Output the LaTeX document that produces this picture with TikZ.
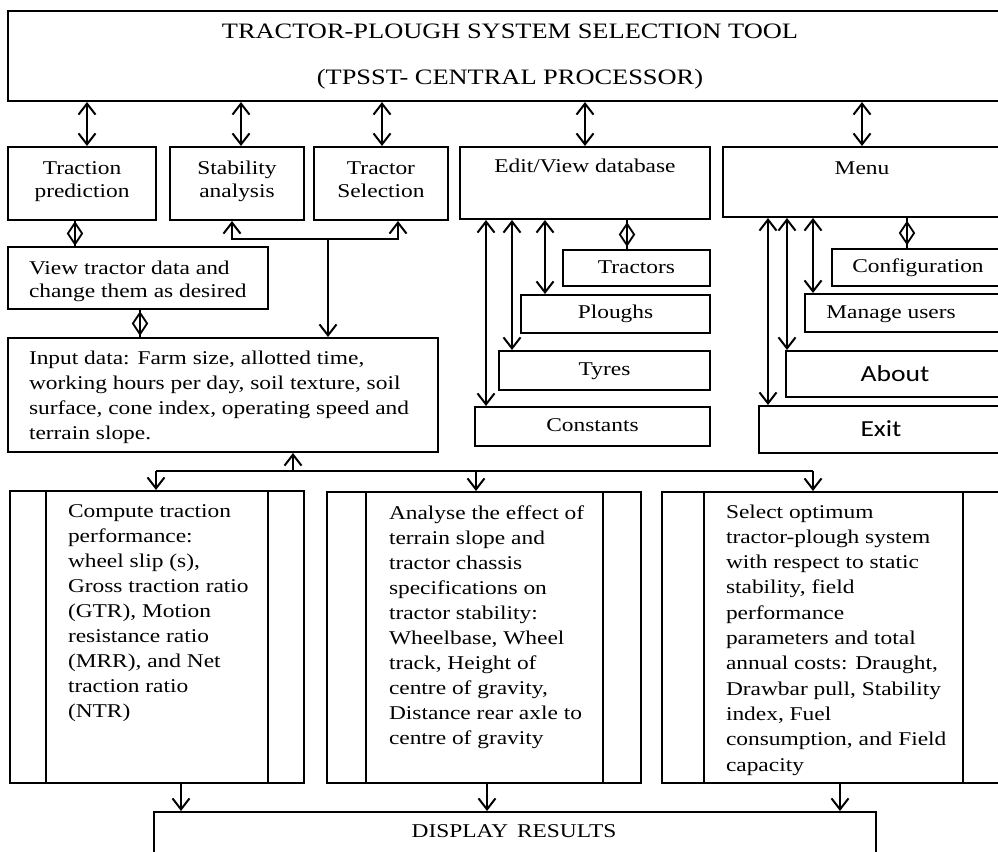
\documentclass[tikz,border=0pt]{standalone}
\usepackage{fontspec}
\setmainfont{Liberation Serif}[FakeStretch=1.2]
\newfontfamily\carl{Carlito}[FakeStretch=1.2]
\usetikzlibrary{arrows.meta,shapes.geometric,fit}
\begin{document}
\begin{tikzpicture}[x=1pt,y=-1pt,line width=2pt,
  >={Straight Barb[length=11pt,width=17pt]},
  bx/.style={draw,rectangle,inner sep=0pt,line width=2pt},
  dia/.style={draw,diamond,minimum width=15pt,minimum height=22pt,inner sep=0pt,line width=1.8pt},
  inl/.style={line width=1.6pt},
  txt/.style={inner sep=0pt,font=\fontsize{19.5}{25}\selectfont},
  txtb/.style={inner sep=0pt,font=\fontsize{19.5}{23}\selectfont,align=center},
  ttl/.style={inner sep=0pt,font=\fontsize{22}{46}\selectfont,align=center},
  sans/.style={inner sep=0pt,font=\carl\fontsize{23}{27}\selectfont}]
\useasboundingbox (0,0) rectangle (998,851);
\clip (0,0) rectangle (998,851);

% ---------- boxes ----------
\node[bx,fit={(8,11) (1012,101)}] (top) {};
\node[bx,fit={(8,147) (156,220)}] (trac) {};
\node[bx,fit={(170,147) (304,220)}] (stab) {};
\node[bx,fit={(314,147) (448,220)}] (tsel) {};
\node[bx,fit={(460,147) (710,219)}] (edit) {};
\node[bx,fit={(723,147) (1012,217)}] (menu) {};
\node[bx,fit={(8,247) (268,309)}] (view) {};
\node[bx,fit={(8,338) (438,452)}] (input) {};
\node[bx,fit={(563,250) (710,286)}] (tractors) {};
\node[bx,fit={(521,295) (710,333)}] (ploughs) {};
\node[bx,fit={(499,351) (710,390)}] (tyres) {};
\node[bx,fit={(475,407) (710,446)}] (consts) {};
\node[bx,fit={(832,249) (1012,286)}] (config) {};
\node[bx,fit={(805,294) (1012,332)}] (manage) {};
\node[bx,fit={(786,351) (1012,397)}] (about) {};
\node[bx,fit={(759,406) (1012,453)}] (exitb) {};
\node[bx,fit={(10,491) (304,783)}] (b1) {};
\node[bx,fit={(327,492) (641,783)}] (b2) {};
\node[bx,fit={(662,492) (1004,783)}] (b3) {};
\node[bx,fit={(154,812) (876,880)}] (disp) {};

% inner lines of the process boxes
\draw[inl] ([xshift=37pt]b1.north west) -- ([xshift=37pt]b1.south west);
\draw[inl] ([xshift=-37pt]b1.north east) -- ([xshift=-37pt]b1.south east);
\draw[inl] ([xshift=40pt]b2.north west) -- ([xshift=40pt]b2.south west);
\draw[inl] ([xshift=-39pt]b2.north east) -- ([xshift=-39pt]b2.south east);
\draw[inl] ([xshift=43pt]b3.north west) -- ([xshift=43pt]b3.south west);
\draw[inl] ([xshift=-42pt]b3.north east) -- ([xshift=-42pt]b3.south east);

% ---------- texts ----------
\node[ttl,anchor=north] (ttltxt) at (510,5.8) {\strut TRACTOR-PLOUGH SYSTEM SELECTION TOOL\\(TPSST- CENTRAL PROCESSOR)};
\node[txtb,anchor=north] (tractxt) at (82,156.9) {\strut Traction\\prediction};
\node[txtb,anchor=north] (stabtxt) at (237,156.9) {\strut Stability\\analysis};
\node[txtb,anchor=north] (tseltxt) at (381,156.9) {\strut Tractor\\Selection};
\node[txt,anchor=base] (edittxt) at (585,172) {Edit/View database};
\node[txt,anchor=base] (menutxt) at (862,174) {Menu};
\node[txt,anchor=base] (tractorstxt) at (636.5,273) {Tractors};
\node[txt,anchor=base] (ploughstxt) at (615.5,318) {Ploughs};
\node[txt,anchor=base] (tyrestxt) at (604.5,375) {Tyres};
\node[txt,anchor=base] (conststxt) at (592.5,431) {Constants};
\node[txt,anchor=base] (configtxt) at (918,272) {Configuration};
\node[txt,anchor=base] (managetxt) at (891,318) {Manage users};
\node[sans,anchor=base] (abouttxt) at (895,381) {About};
\node[sans,anchor=base] (exittxt) at (881,436) {Exit};
\node[txt,anchor=north west,align=left,font=\fontsize{19.5}{23}\selectfont] (viewtxt) at (28,256.9)
  {\strut View tractor data and\\change them as desired};
\node[txt,anchor=north west,align=left,font=\fontsize{19.5}{24.7}\selectfont] (inputtxt) at (28,346.7)
  {\strut Input data: Farm size, allotted time,\\working hours per day, soil texture, soil\\surface, cone index, operating speed and\\terrain slope.};
\node[txt,anchor=north west,align=left] (b1txt) at (67,498.5)
  {\strut Compute traction\\performance:\\wheel slip (s),\\Gross traction ratio\\(GTR), Motion\\resistance ratio\\(MRR), and Net\\traction ratio\\(NTR)};
\node[txt,anchor=north west,align=left] (b2txt) at (388,500.5)
  {\strut Analyse the effect of\\terrain slope and\\tractor chassis\\specifications on\\tractor stability:\\Wheelbase, Wheel\\track, Height of\\centre of gravity,\\Distance rear axle to\\centre of gravity};
\node[txt,anchor=north west,align=left,font=\fontsize{19.5}{25.3}\selectfont] (b3txt) at (725,499.3)
  {\strut Select optimum\\tractor-plough system\\with respect to static\\stability, field\\performance\\parameters and total\\annual costs: Draught,\\Drawbar pull, Stability\\index, Fuel\\consumption, and Field\\capacity};
\node[txt,anchor=base] (disptxt) at (514,837) {DISPLAY\hspace{0.45em}RESULTS};

% ---------- connectors ----------
\foreach \xx/\nn in {87/trac,241/stab,382/tsel,585/edit,862/menu}{
  \coordinate (ta\nn) at (\xx,0);
  \draw[<->] (top.south -| ta\nn) -- (\nn.north -| ta\nn);
}
% diamonds
\coordinate (d1) at (75,0);
\coordinate (d2) at (140,0);
\coordinate (d3) at (627,0);
\coordinate (d4) at (907,0);
\draw (trac.south -| d1) -- node[dia] (dm1) {} (view.north -| d1);
\draw (view.south -| d2) -- node[dia] (dm2) {} (input.north -| d2);
\draw (edit.south -| d3) -- node[dia] (dm3) {} (tractors.north -| d3);
\draw (menu.south -| d4) -- node[dia] (dm4) {} (config.north -| d4);

% stability / tractor selection join
\coordinate (jn) at (328,239);
\coordinate (js) at (232,239);
\coordinate (jt) at (398,239);
\draw[->] (jn) -- (js) -- (stab.south -| js);
\draw[->] (jn) -- (jt) -- (tsel.south -| jt);
\draw[->] (jn) -- (input.north -| jn);

% database and menu sub-items
\foreach \xx/\nn in {545/ploughs,512/tyres,486/consts}{
  \coordinate (ea\nn) at (\xx,0);
  \draw[<->] (edit.south -| ea\nn) -- (\nn.north -| ea\nn);
}
\foreach \xx/\nn in {813/manage,787/about,768/exitb}{
  \coordinate (ma\nn) at (\xx,0);
  \draw[<->] (menu.south -| ma\nn) -- (\nn.north -| ma\nn);
}

% branch to the three process boxes
\coordinate (bL) at (156,471);
\coordinate (bC) at (293,471);
\coordinate (bM) at (476,471);
\coordinate (bR) at (813,471);
\draw (bL) -- (bR);
\draw[->] (bC) -- (input.south -| bC);
\draw[->] (bL) -- (b1.north -| bL);
\draw[->] (bM) -- (b2.north -| bM);
\draw[->] (bR) -- (b3.north -| bR);

% to display results
\coordinate (o1) at (181,0);
\coordinate (o2) at (487,0);
\coordinate (o3) at (840,0);
\draw[->] (b1.south -| o1) -- (disp.north -| o1);
\draw[->] (b2.south -| o2) -- (disp.north -| o2);
\draw[->] (b3.south -| o3) -- (disp.north -| o3);
\end{tikzpicture}
\end{document}
